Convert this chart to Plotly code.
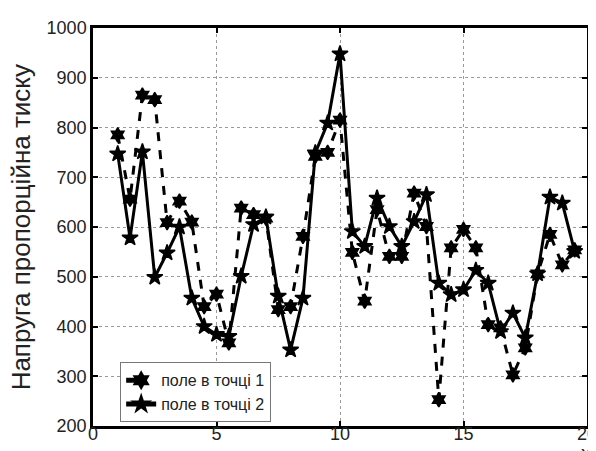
import plotly.graph_objects as go

x_vals = [1, 1.5, 2, 2.5, 3, 3.5, 4, 4.5, 5, 5.5, 6, 6.5, 7, 7.5, 8, 8.5, 9, 9.5, 10, 10.5,
          11, 11.5, 12, 12.5, 13, 13.5, 14, 14.5, 15, 15.5, 16, 16.5, 17, 17.5, 18, 18.5, 19, 19.5]

field_point1 = [785, 656, 865, 856, 609, 652, 610, 440, 465, 367, 638, 625, 618, 434, 440, 581,
                742, 750, 815, 549, 451, 635, 541, 541, 668, 601, 253, 558, 595, 558, 404, 397,
                303, 357, 506, 585, 524, 554]

field_point2 = [747, 578, 751, 499, 548, 600, 457, 400, 384, 380, 501, 605, 620, 461, 353, 457,
                749, 809, 948, 591, 561, 658, 601, 561, 611, 665, 487, 464, 474, 513, 487, 390,
                427, 377, 506, 660, 648, 551]

series_names = ["поле в точці 1", "поле в точці 2"]
y_title = "Напруга пропорційна тиску"
x_title = "x"
x_ticks = [0, 5, 10, 15, 20]
y_ticks = [200, 300, 400, 500, 600, 700, 800, 900, 1000]

FONT = "Liberation Sans, Arial, sans-serif"

fig = go.Figure()
fig.add_trace(go.Scatter(
    x=x_vals, y=field_point1, name=series_names[0], mode="lines+markers",
    line=dict(color="black", width=3, dash="dash"),
    marker=dict(symbol="hexagram", size=11, color="black",
                line=dict(color="black", width=1.5)),
))
fig.add_trace(go.Scatter(
    x=x_vals, y=field_point2, name=series_names[1], mode="lines+markers",
    line=dict(color="black", width=3),
    marker=dict(symbol="star", size=12, color="black",
                line=dict(color="black", width=1.5)),
))

axis_common = dict(
    showline=True, linecolor="black", linewidth=2.5, mirror="allticks",
    ticks="inside", ticklen=5, tickwidth=2, tickcolor="black",
    showgrid=True, gridcolor="#9a9a9a", gridwidth=1, griddash="dot",
    zeroline=False, tickfont=dict(family=FONT, size=18, color="#222"),
    ticklabeloverflow="allow",
)

fig.update_xaxes(range=[0, 20], tickvals=x_ticks, ticklabelstandoff=-10, **axis_common)
fig.update_yaxes(range=[200, 1000], tickvals=y_ticks, **axis_common)

fig.update_layout(
    width=596, height=451,
    margin=dict(l=85, r=7, t=20, b=33),
    plot_bgcolor="white", paper_bgcolor="white",
    font=dict(family=FONT, color="#222"),
    showlegend=True,
    legend=dict(
        x=0.055, y=0.16, xanchor="left", yanchor="top",
        bgcolor="white", bordercolor="#777", borderwidth=1,
        font=dict(family=FONT, size=16, color="#222"),
        tracegroupgap=0, itemsizing="constant",
    ),
    annotations=[
        dict(text=y_title, xref="paper", yref="paper", x=-0.145, y=0.5,
             xanchor="center", yanchor="middle", textangle=-90, showarrow=False,
             font=dict(family=FONT, size=26, color="#222")),
        dict(text=x_title, xref="paper", yref="paper", x=0.998, y=-0.1,
             xanchor="center", yanchor="bottom", showarrow=False,
             font=dict(family=FONT, size=20, color="#222")),
    ],
)

fig.write_html("out.html")
